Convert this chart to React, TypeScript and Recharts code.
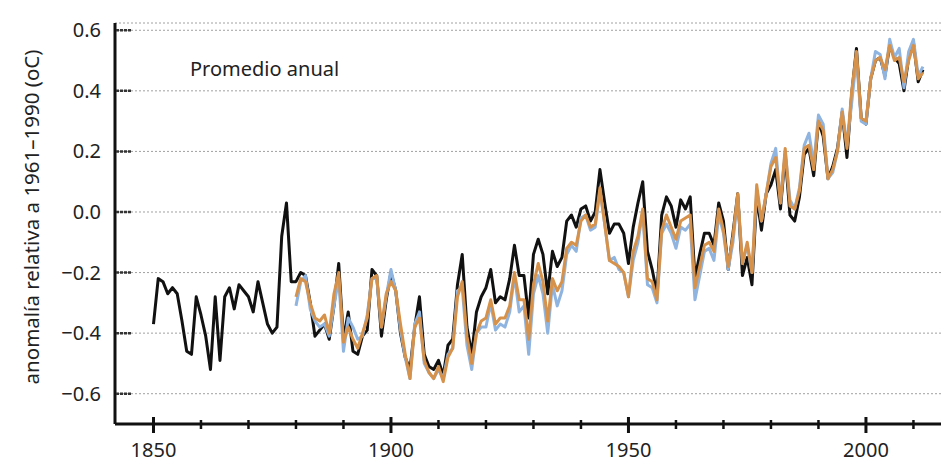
import React from 'react';
import { LineChart, Line, XAxis, YAxis, CartesianGrid } from 'recharts';

// anomalías anuales (°C, relativas a 1961–1990)
const FIRST_YEAR = 1850;
const SECOND_START = 1880;

const hadcrut = [
  -0.37, -0.22, -0.23, -0.27, -0.25, -0.27, -0.36, -0.46, -0.47, -0.28,
  -0.34, -0.41, -0.52, -0.28, -0.49, -0.28, -0.25, -0.32, -0.24, -0.26,
  -0.28, -0.33, -0.23, -0.30, -0.37, -0.40, -0.38, -0.08, 0.03, -0.23,
  -0.23, -0.20, -0.21, -0.30, -0.41, -0.39, -0.37, -0.42, -0.31, -0.17,
  -0.42, -0.33, -0.46, -0.47, -0.41, -0.39, -0.19, -0.21, -0.41, -0.29,
  -0.20, -0.26, -0.40, -0.48, -0.52, -0.38, -0.28, -0.47, -0.51, -0.52,
  -0.49, -0.54, -0.44, -0.42, -0.24, -0.14, -0.38, -0.47, -0.33, -0.28,
  -0.25, -0.19, -0.30, -0.28, -0.29, -0.22, -0.11, -0.21, -0.21, -0.35,
  -0.14, -0.09, -0.14, -0.27, -0.13, -0.18, -0.15, -0.03, -0.01, -0.05,
  0.01, 0.02, -0.03, 0.0, 0.14, 0.03, -0.07, -0.04, -0.04, -0.07,
  -0.17, -0.05, 0.03, 0.10, -0.13, -0.19, -0.27, -0.01, 0.05, 0.02,
  -0.05, 0.04, 0.01, 0.05, -0.22, -0.14, -0.07, -0.07, -0.11, 0.03,
  -0.03, -0.19, -0.07, 0.06, -0.21, -0.15, -0.24, 0.05, -0.06, 0.06,
  0.09, 0.14, 0.01, 0.19, -0.01, -0.03, 0.05, 0.19, 0.21, 0.12,
  0.30, 0.25, 0.11, 0.15, 0.21, 0.33, 0.18, 0.39, 0.54, 0.31,
  0.29, 0.44, 0.50, 0.51, 0.45, 0.55, 0.51, 0.49, 0.40, 0.51,
  0.56, 0.43, 0.47,
];

const mlost = [
  -0.28, -0.22, -0.23, -0.30, -0.35, -0.36, -0.34, -0.40, -0.27, -0.20,
  -0.43, -0.38, -0.42, -0.45, -0.40, -0.35, -0.22, -0.21, -0.38, -0.27,
  -0.23, -0.26, -0.37, -0.47, -0.55, -0.38, -0.35, -0.49, -0.53, -0.55,
  -0.51, -0.56, -0.48, -0.45, -0.28, -0.23, -0.41, -0.50, -0.40, -0.36,
  -0.35, -0.29, -0.37, -0.35, -0.35, -0.31, -0.20, -0.29, -0.29, -0.42,
  -0.24, -0.17, -0.23, -0.36, -0.22, -0.26, -0.23, -0.12, -0.10, -0.11,
  -0.03, -0.01, -0.05, -0.04, 0.08, -0.04, -0.16, -0.17, -0.18, -0.20,
  -0.28, -0.13, -0.08, 0.01, -0.22, -0.23, -0.29, -0.06, -0.01, -0.05,
  -0.09, -0.03, -0.02, -0.01, -0.25, -0.18, -0.11, -0.10, -0.13, 0.01,
  -0.06, -0.18, -0.08, 0.06, -0.17, -0.10, -0.20, 0.09, -0.03, 0.06,
  0.15, 0.18, 0.03, 0.21, 0.02, 0.01, 0.07, 0.21, 0.22, 0.14,
  0.30, 0.27, 0.11, 0.14, 0.20, 0.33, 0.21, 0.40, 0.53, 0.31,
  0.30, 0.44, 0.50, 0.51, 0.47, 0.55, 0.50, 0.51, 0.43, 0.50,
  0.55, 0.44, 0.46,
];

const giss = [
  -0.31, -0.23, -0.21, -0.32, -0.36, -0.38, -0.37, -0.41, -0.31, -0.22,
  -0.46, -0.35, -0.38, -0.42, -0.41, -0.34, -0.22, -0.22, -0.38, -0.28,
  -0.19, -0.26, -0.39, -0.48, -0.55, -0.37, -0.33, -0.50, -0.53, -0.55,
  -0.52, -0.55, -0.47, -0.45, -0.26, -0.25, -0.44, -0.52, -0.40, -0.38,
  -0.38, -0.30, -0.39, -0.37, -0.38, -0.33, -0.21, -0.33, -0.31, -0.47,
  -0.27, -0.21, -0.27, -0.40, -0.24, -0.31, -0.26, -0.14, -0.11, -0.13,
  -0.02, -0.01, -0.06, -0.05, 0.07, -0.04, -0.16, -0.15, -0.19, -0.20,
  -0.28, -0.16, -0.10, 0.0, -0.24, -0.25, -0.30, -0.07, -0.04, -0.07,
  -0.12, -0.05, -0.06, -0.04, -0.29, -0.21, -0.13, -0.12, -0.16, -0.01,
  -0.07, -0.19, -0.10, 0.05, -0.17, -0.11, -0.20, 0.07, -0.03, 0.06,
  0.16, 0.21, 0.03, 0.20, 0.04, 0.01, 0.08, 0.22, 0.26, 0.16,
  0.32, 0.29, 0.11, 0.13, 0.20, 0.34, 0.22, 0.36, 0.51, 0.30,
  0.29, 0.44, 0.53, 0.52, 0.44, 0.57, 0.51, 0.54, 0.41, 0.53,
  0.57, 0.45, 0.48,
];

const xTicks = [1850, 1860, 1870, 1880, 1890, 1900, 1910, 1920, 1930, 1940, 1950, 1960, 1970, 1980, 1990, 2000, 2010];
const yTicks = [-0.6, -0.4, -0.2, 0.0, 0.2, 0.4, 0.6];

const yLabel = 'anomalía relativa a 1961–1990 (oC)';
const note = 'Promedio anual';

const data = hadcrut.map((v, i) => {
  const year = FIRST_YEAR + i;
  const j = year - SECOND_START;
  return {
    year,
    hadcrut: v,
    mlost: j >= 0 ? mlost[j] : null,
    giss: j >= 0 ? giss[j] : null,
  };
});

const FONT = '"Noto Sans", "Open Sans", sans-serif';
const TEXT = '#222';
const PLOT_LEFT = 115;
const AXIS_Y = 424;

const fmt = (v: number) => (v < 0 ? '−' : '') + Math.abs(v).toFixed(1);

const YTick = (props: any) => {
  const { y, payload } = props;
  return (
    <g>
      <line x1={PLOT_LEFT + 1} x2={PLOT_LEFT + 16} y1={y} y2={y} stroke="#333" strokeWidth={2.5} strokeDasharray="3 1" />
      <text x={101} y={y} dy={7} textAnchor="end" fontSize={20} fontFamily={FONT} fill={TEXT}>
        {fmt(payload.value)}
      </text>
    </g>
  );
};

const XTick = (props: any) => {
  const { x, payload } = props;
  const major = payload.value % 50 === 0;
  return (
    <g>
      <line
        x1={x}
        x2={x}
        y1={AXIS_Y - (major ? 7 : 4)}
        y2={AXIS_Y + (major ? 9 : 5)}
        stroke="#111"
        strokeWidth={major ? 3 : 2.5}
      />
      {major && (
        <text x={x} y={AXIS_Y + 33} textAnchor="middle" fontSize={20} fontFamily={FONT} fill={TEXT}>
          {payload.value}
        </text>
      )}
    </g>
  );
};

const YLabel = () => (
  <text
    x={33}
    y={217}
    transform="rotate(-90, 33, 217)"
    textAnchor="middle"
    dominantBaseline="middle"
    fontSize={20.5}
    fontFamily={FONT}
    fill={TEXT}
  >
    {yLabel}
  </text>
);

export default function App() {
  return (
    <div style={{ position: 'absolute', left: 0, top: 0, width: 952, height: 467, background: '#fff' }}>
      <LineChart width={952} height={467} data={data} margin={{ top: 23, right: 11, left: 0, bottom: 0 }}>
        <CartesianGrid horizontal vertical={false} stroke="#a0a0a0" strokeDasharray="2 2" strokeWidth={1} />
        <XAxis
          dataKey="year"
          type="number"
          domain={[1841.9, 2015.8]}
          allowDataOverflow
          ticks={xTicks}
          interval={0}
          height={43}
          tickLine={false}
          axisLine={{ stroke: '#111', strokeWidth: 3 }}
          tick={<XTick />}
        />
        <YAxis
          type="number"
          domain={[-0.7, 0.624]}
          allowDataOverflow
          ticks={yTicks}
          interval={0}
          width={115}
          tickLine={false}
          axisLine={{ stroke: '#111', strokeWidth: 3 }}
          tick={<YTick />}
          label={<YLabel />}
        />
        <Line dataKey="hadcrut" stroke="#111" strokeWidth={3} dot={false} isAnimationActive={false} strokeLinejoin="round" />
        <Line dataKey="giss" stroke="#8fb4df" strokeWidth={3} dot={false} isAnimationActive={false} strokeLinejoin="round" />
        <Line dataKey="mlost" stroke="#d6914a" strokeWidth={3} dot={false} isAnimationActive={false} strokeLinejoin="round" />
      </LineChart>
      <div
        style={{
          position: 'absolute',
          left: 190,
          top: 55,
          fontFamily: FONT,
          fontSize: 20,
          color: TEXT,
          whiteSpace: 'nowrap',
          lineHeight: '28px',
        }}
      >
        {note}
      </div>
    </div>
  );
}
